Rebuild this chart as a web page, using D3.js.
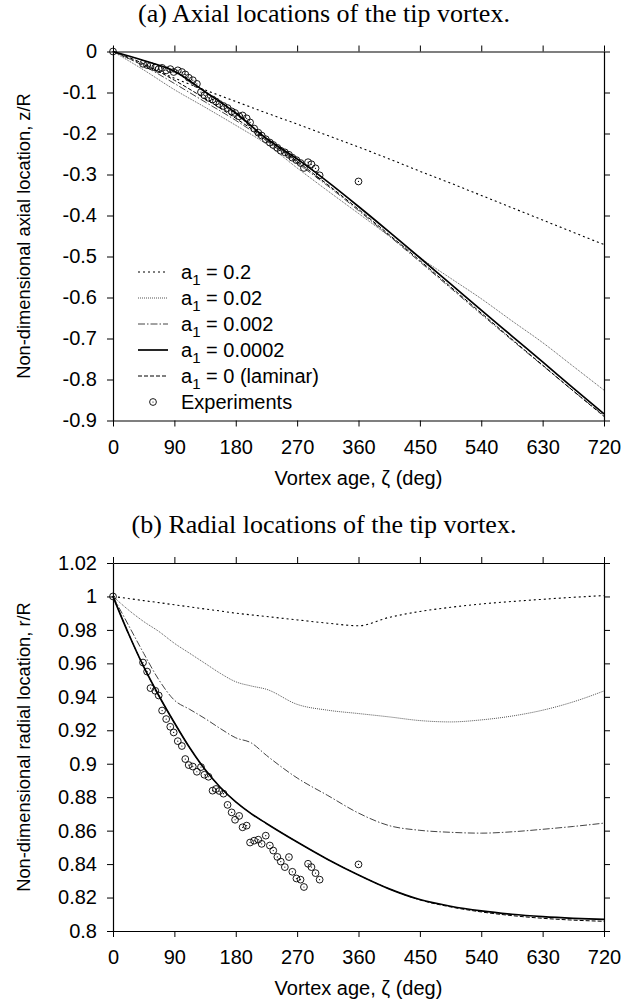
<!DOCTYPE html>
<html>
<head>
<meta charset="utf-8">
<script src="https://cdn.jsdelivr.net/npm/d3@7"></script>
<style>
	body { margin: 0; background: #fff; }
	svg { display: block; }
	.tick text { font-family: "Liberation Sans", Arial, sans-serif; font-size: 20px; fill: #000; }
	.axis-label { font-family: "Liberation Sans", Arial, sans-serif; font-size: 20px; }
	.y-label { font-size: 18.3px; }
	.title { font-family: "Liberation Serif", "Times New Roman", serif; font-size: 26px; }
	.legend text { font-family: "Liberation Sans", Arial, sans-serif; font-size: 20px; }
</style>
</head>
<body>
<script>
// x ticks (vortex age, deg)
const xTicks = [0, 90, 180, 270, 360, 450, 540, 630, 720];
const yTicksA = [0, -0.1, -0.2, -0.3, -0.4, -0.5, -0.6, -0.7, -0.8, -0.9];
const yTicksB = [1.02, 1, 0.98, 0.96, 0.94, 0.92, 0.9, 0.88, 0.86, 0.84, 0.82, 0.8];

const seriesNames = ['0.2', '0.02', '0.002', '0.0002', '0 (laminar)'];

// (a) axial locations, z/R
const zetaA = [0, 45, 90, 135, 180, 225, 270, 315, 360, 405, 450, 495, 540, 585, 630, 675, 720];
const zA_02 = [0, -0.033, -0.065, -0.094, -0.122, -0.150, -0.177, -0.205, -0.233, -0.262, -0.292, -0.321, -0.351, -0.381, -0.411, -0.441, -0.471];
const zA_002 = [0, -0.045, -0.093, -0.136, -0.180, -0.226, -0.284, -0.340, -0.395, -0.450, -0.503, -0.553, -0.603, -0.657, -0.710, -0.768, -0.826];
const zA_0002 = [0, -0.035, -0.078, -0.123, -0.168, -0.218, -0.272, -0.328, -0.388, -0.450, -0.513, -0.577, -0.641, -0.704, -0.766, -0.828, -0.888];
const zA_00002 = [0, -0.022, -0.048, -0.098, -0.150, -0.212, -0.262, -0.318, -0.378, -0.440, -0.503, -0.567, -0.631, -0.694, -0.757, -0.821, -0.884];
const zA_lam = [0, -0.030, -0.070, -0.115, -0.163, -0.214, -0.268, -0.325, -0.385, -0.447, -0.510, -0.574, -0.638, -0.702, -0.765, -0.828, -0.890];

// (b) radial locations, r/R
const zetaB = [0, 22.5, 45, 67.5, 90, 112.5, 135, 157.5, 180, 202.5, 225, 270, 315, 360, 405, 450, 495, 540, 585, 630, 675, 720];
const rB_02 = [1.0, 0.9988, 0.9975, 0.9963, 0.995, 0.9938, 0.9925, 0.9913, 0.990, 0.989, 0.988, 0.986, 0.984, 0.9825, 0.9875, 0.991, 0.9935, 0.9955, 0.997, 0.9983, 0.9995, 1.0005];
const rB_002 = [1.0, 0.992, 0.985, 0.979, 0.972, 0.966, 0.960, 0.954, 0.949, 0.9465, 0.9445, 0.9355, 0.932, 0.930, 0.928, 0.9258, 0.925, 0.9262, 0.9285, 0.932, 0.937, 0.9435];
const rB_0002 = [1.0, 0.983, 0.966, 0.950, 0.938, 0.9325, 0.927, 0.921, 0.9155, 0.9125, 0.905, 0.8915, 0.881, 0.8705, 0.863, 0.8602, 0.859, 0.8585, 0.8593, 0.8608, 0.8625, 0.8645];
const rB_00002 = [1.0, 0.978, 0.958, 0.9405, 0.9245, 0.9095, 0.8965, 0.8858, 0.8772, 0.8702, 0.8643, 0.8532, 0.8428, 0.8335, 0.8252, 0.8188, 0.8148, 0.812, 0.810, 0.8086, 0.8076, 0.8069];
const rB_lam = [1.0, 0.978, 0.958, 0.9405, 0.9245, 0.9095, 0.8965, 0.8858, 0.8772, 0.8702, 0.8643, 0.8532, 0.8428, 0.8335, 0.8252, 0.8186, 0.8144, 0.8114, 0.8092, 0.8076, 0.8065, 0.8058];

// Experiments
const expZeta = [0, 44, 50, 55, 62, 67, 72, 78, 84, 89, 95, 101, 106, 111, 117, 123, 129, 134, 140, 146, 151, 156, 162, 168, 174, 179, 185, 190, 196, 201, 207, 213, 218, 224, 230, 235, 241, 246, 252, 258, 263, 269, 275, 280, 286, 291, 297, 303, 360];
const expZ = [0, -0.030, -0.033, -0.035, -0.039, -0.043, -0.040, -0.046, -0.043, -0.050, -0.046, -0.050, -0.056, -0.064, -0.070, -0.079, -0.099, -0.107, -0.113, -0.117, -0.122, -0.128, -0.133, -0.138, -0.146, -0.150, -0.158, -0.156, -0.163, -0.173, -0.188, -0.198, -0.205, -0.214, -0.222, -0.228, -0.235, -0.242, -0.246, -0.252, -0.259, -0.265, -0.272, -0.284, -0.270, -0.275, -0.285, -0.302, -0.317];
const expR = [1.0, 0.9605, 0.9551, 0.9452, 0.9436, 0.9408, 0.9318, 0.9267, 0.9221, 0.9187, 0.9135, 0.9106, 0.9028, 0.8992, 0.8983, 0.8952, 0.898, 0.8934, 0.8922, 0.8839, 0.8849, 0.8837, 0.8821, 0.8754, 0.8709, 0.8665, 0.8688, 0.862, 0.863, 0.8529, 0.854, 0.8546, 0.8521, 0.857, 0.8511, 0.8481, 0.8443, 0.8415, 0.8382, 0.8442, 0.8354, 0.8314, 0.8307, 0.8263, 0.8402, 0.8382, 0.8346, 0.8307, 0.8398];

// line styles per series, same order as seriesNames
const styles = [
	{ stroke: '#000', width: 1.1, dash: '2,3' },
	{ stroke: '#555', width: 1, dash: '1,1' },
	{ stroke: '#444', width: 1, dash: '7,2,1.5,2' },
	{ stroke: '#000', width: 1.7, dash: null },
	{ stroke: '#000', width: 1, dash: '4,2' }
];

const svg = d3.select('body').append('svg')
	.attr('width', 635)
	.attr('height', 1007);

const left = 113, right = 604;
const x = d3.scaleLinear().domain([0, 720]).range([left, right]);

function drawPanel(opts) {
	const y = d3.scaleLinear().domain(opts.yDomain).range(opts.yRange);
	const top = opts.yRange[1], bottom = opts.yRange[0];
	const g = svg.append('g');

	// Title
	svg.append('text')
		.attr('class', 'title')
		.attr('x', 324)
		.attr('y', opts.titleY)
		.attr('text-anchor', 'middle')
		.text(opts.title);

	// Axes
	const axB = d3.axisBottom(x).tickValues(xTicks).tickSize(6).tickSizeOuter(0).tickPadding(13);
	const axT = d3.axisTop(x).tickValues(xTicks).tickSize(6).tickSizeOuter(0).tickFormat('');
	const axL = d3.axisLeft(y).tickValues(opts.yTicks).tickSize(6).tickSizeOuter(0).tickPadding(10).tickFormat(opts.fmt);
	const axR = d3.axisRight(y).tickValues(opts.yTicks).tickSize(6).tickSizeOuter(0).tickFormat('');

	g.append('g').attr('transform', `translate(0,${bottom})`).call(axB);
	g.append('g').attr('transform', `translate(0,${top})`).call(axT);
	g.append('g').attr('transform', `translate(${left},0)`).call(axL);
	g.append('g').attr('transform', `translate(${right},0)`).call(axR);
	g.selectAll('.domain').attr('stroke', '#000').attr('stroke-width', 1.2);
	g.selectAll('.tick line').attr('stroke', '#000').attr('stroke-width', 1);

	// Axis labels
	g.append('text')
		.attr('class', 'axis-label')
		.attr('x', (left + right) / 2)
		.attr('y', bottom + 57)
		.attr('text-anchor', 'middle')
		.attr('dominant-baseline', 'central')
		.text('Vortex age, \u03B6 (deg)');

	g.append('text')
		.attr('class', 'axis-label y-label')
		.attr('transform', `translate(23,${(top + bottom) / 2}) rotate(-90)`)
		.attr('text-anchor', 'middle')
		.attr('dominant-baseline', 'central')
		.text(opts.yLabel);

	// Curves
	const line = d3.line()
		.x(d => x(d[0]))
		.y(d => y(d[1]))
		.curve(d3.curveMonotoneX);

	opts.series.forEach((vals, i) => {
		const pts = opts.zeta.map((z, j) => [z, vals[j]]);
		g.append('path')
			.datum(pts)
			.attr('fill', 'none')
			.attr('stroke', styles[i].stroke)
			.attr('stroke-width', styles[i].width)
			.attr('stroke-dasharray', styles[i].dash)
			.attr('d', line);
	});

	// Experiments
	const exp = expZeta.map((z, j) => [z, opts.exp[j]]);
	const pts = g.append('g').selectAll('g').data(exp).enter().append('g')
		.attr('transform', d => `translate(${x(d[0])},${y(d[1])})`);
	pts.append('circle').attr('r', 3.4).attr('fill', 'none').attr('stroke', '#000').attr('stroke-width', 0.9);
	pts.append('circle').attr('r', 0.6).attr('fill', '#000');

	return g;
}

drawPanel({
	title: '(a) Axial locations of the tip vortex.',
	titleY: 22,
	yDomain: [-0.9, 0],
	yRange: [420.5, 51.5],
	yTicks: yTicksA,
	fmt: d => d === 0 ? '0' : d.toFixed(1),
	yLabel: 'Non-dimensional axial location, z/R',
	zeta: zetaA,
	series: [zA_02, zA_002, zA_0002, zA_00002, zA_lam],
	exp: expZ
});

drawPanel({
	title: '(b) Radial locations of the tip vortex.',
	titleY: 533,
	yDomain: [0.8, 1.02],
	yRange: [931, 563],
	yTicks: yTicksB,
	fmt: d => String(+d.toFixed(2)),
	yLabel: 'Non-dimensional radial location, r/R',
	zeta: zetaB,
	series: [rB_02, rB_002, rB_0002, rB_00002, rB_lam],
	exp: expR
});

// Legend (panel a)
const legend = svg.append('g').attr('class', 'legend');
const rowY = d3.scaleLinear().domain([0, 5]).range([272, 402]);
const rows = legend.selectAll('g').data(seriesNames.concat(['Experiments'])).enter().append('g')
	.attr('transform', (d, i) => `translate(0,${rowY(i)})`);

rows.filter((d, i) => i < 5).append('line')
	.attr('x1', 138).attr('x2', 168)
	.attr('stroke', (d, i) => styles[i].stroke)
	.attr('stroke-width', (d, i) => styles[i].width)
	.attr('stroke-dasharray', (d, i) => styles[i].dash);

rows.filter((d, i) => i === 5).append('circle')
	.attr('cx', 153).attr('r', 3.4).attr('fill', 'none').attr('stroke', '#000').attr('stroke-width', 0.9);
rows.filter((d, i) => i === 5).append('circle')
	.attr('cx', 153).attr('r', 0.6).attr('fill', '#000');

rows.each(function(d, i) {
	const t = d3.select(this).append('text')
		.attr('x', 181)
		.attr('y', 7);
	if (i < 5) {
		t.append('tspan').text('a');
		t.append('tspan').attr('dy', 6).attr('font-size', 15).text('1');
		t.append('tspan').attr('dy', -6).text(' = ' + d);
	} else {
		t.text(d);
	}
});
</script>
</body>
</html>
